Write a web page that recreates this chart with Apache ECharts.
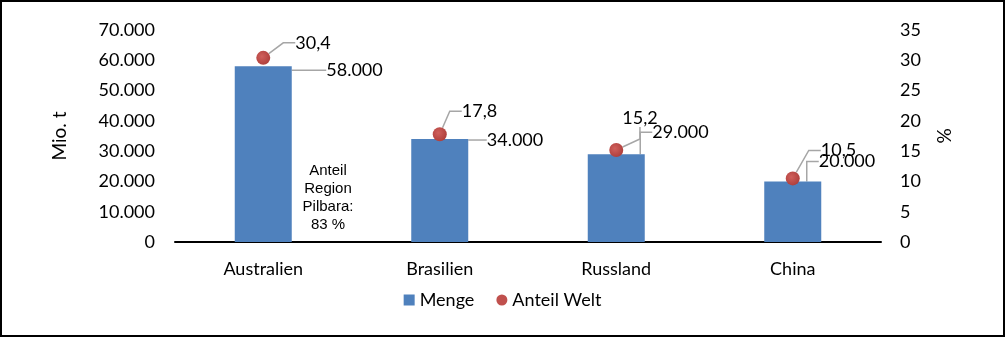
<!DOCTYPE html>
<html><head><meta charset="utf-8">
<script src="https://cdn.jsdelivr.net/npm/echarts@6/dist/echarts.min.js"></script>
<style>html,body{margin:0;padding:0;background:#fff}#c{width:1005px;height:337px;box-sizing:border-box;border:2px solid #000}</style>
</head><body><div id="c"></div>
<script>
const categories = ['Australien', 'Brasilien', 'Russland', 'China'];
const menge = [58000, 34000, 29000, 20000];
const anteilWelt = [30.4, 17.8, 15.2, 10.5];
const leftTicks = {min: 0, max: 70000, interval: 10000};
const rightTicks = {min: 0, max: 35, interval: 5};
// label offsets (layout only)
const barLabelOffsets = [[59, 4], [43, 1], [32, -22], [22, -20]];
const dotLabelOffsets = [[28, -15], [18, -23], [2, -32], [24, -28]];

const FONT = 'Lato';
const fmtThousands = v => String(v).replace(/\B(?=(\d{3})+(?!\d))/g, '.');
const guide = {show: true, length2: 12, lineStyle: {color: '#a6a6a6', width: 1.5}};
const chart = echarts.init(document.getElementById('c'));
chart.setOption({
  animation: false,
  textStyle: {fontFamily: FONT, color: '#000'},
  grid: {left: 173, right: 122, top: 28, bottom: 93, containLabel: false},
  legend: {
    bottom: 21, left: 'center', itemGap: 22, itemWidth: 11, itemHeight: 11,
    textStyle: {fontSize: 18, fontFamily: FONT, color: '#000'},
    data: [{name: 'Menge', icon: 'rect'}, {name: 'Anteil Welt', icon: 'circle', itemStyle: {color: '#c0504d', opacity: 1}}]
  },
  xAxis: {
    type: 'category', data: categories,
    axisLine: {lineStyle: {color: '#000', width: 2}},
    axisTick: {show: false},
    axisLabel: {fontSize: 18, color: '#000', margin: 18, fontFamily: FONT}
  },
  yAxis: [{
    type: 'value', min: leftTicks.min, max: leftTicks.max, interval: leftTicks.interval,
    name: 'Mio. t', nameLocation: 'middle', nameGap: 106, nameRotate: 90,
    nameTextStyle: {fontSize: 19, color: '#000', fontFamily: FONT},
    splitLine: {show: false}, axisLine: {show: false}, axisTick: {show: false},
    axisLabel: {fontSize: 18, color: '#000', margin: 20, formatter: fmtThousands, fontFamily: FONT}
  }, {
    type: 'value', min: rightTicks.min, max: rightTicks.max, interval: rightTicks.interval,
    name: '%', nameLocation: 'middle', nameGap: 54, nameRotate: 90,
    nameTextStyle: {fontSize: 19, color: '#000', fontFamily: FONT},
    splitLine: {show: false}, axisLine: {show: false}, axisTick: {show: false},
    axisLabel: {fontSize: 18, color: '#000', margin: 19, fontFamily: FONT}
  }],
  series: [{
    name: 'Menge', type: 'bar', data: menge, barWidth: 57, yAxisIndex: 0,
    itemStyle: {color: '#4f81bd'},
    label: {show: true, position: 'top', distance: 0, align: 'left', verticalAlign: 'middle',
      padding: [2, 4, 2, 4],
      fontSize: 18, color: '#000', fontFamily: FONT, formatter: p => fmtThousands(p.value)},
    labelLine: guide,
    labelLayout: p => ({dx: barLabelOffsets[p.dataIndex][0], dy: barLabelOffsets[p.dataIndex][1]}),
    z: 2
  }, {
    name: 'Anteil Welt', type: 'scatter', data: anteilWelt, yAxisIndex: 1,
    symbol: 'circle', symbolSize: 14,
    itemStyle: {opacity: 1, color: {type: 'radial', x: 0.4, y: 0.4, r: 0.6,
      colorStops: [{offset: 0, color: '#d0605c'}, {offset: 1, color: '#b0403d'}]}},
    label: {show: true, position: 'inside', align: 'left', verticalAlign: 'middle',
      padding: [2, 4, 2, 4],
      fontSize: 18, color: '#000', fontFamily: FONT, formatter: p => String(p.value).replace('.', ',')},
    labelLine: guide,
    labelLayout: p => ({dx: dotLabelOffsets[p.dataIndex][0], dy: dotLabelOffsets[p.dataIndex][1]}),
    z: 3
  }],
  graphic: [{
    type: 'text', x: 326, y: 160,
    style: {text: 'Anteil\nRegion\nPilbara:\n83 %', align: 'center', verticalAlign: 'top', fontSize: 15, lineHeight: 18,
      fontFamily: 'Liberation Sans', fill: '#000'}
  }]
});
</script></body></html>
